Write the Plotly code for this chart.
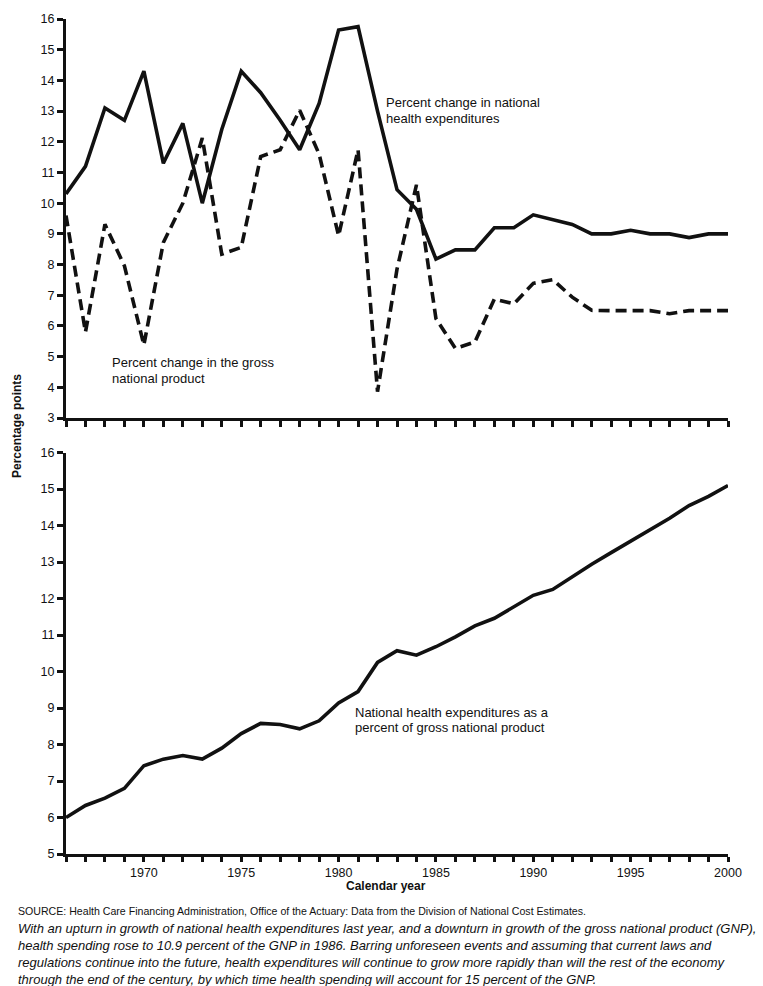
import plotly.graph_objects as go

years = list(range(1966, 2001))

# percent change in national health expenditures (solid)
nhe_change = [10.3, 11.2, 13.1, 12.7, 14.3, 11.3, 12.6, 10.0, 12.4, 14.3,
              13.6, 12.7, 11.74, 13.25, 15.64, 15.75, 13.0, 10.44, 9.8, 8.18,
              8.48, 8.48, 9.2, 9.2, 9.62, 9.47, 9.31, 9.0, 9.0, 9.12,
              9.0, 9.0, 8.88, 9.0, 9.0]

# percent change in gross national product (dashed)
gnp_change = [9.6, 5.8, 9.31, 7.96, 5.38, 8.72, 10.0, 12.12, 8.34, 8.56,
              11.52, 11.74, 13.03, 11.6, 8.94, 11.74, 3.86, 7.85, 10.6, 6.24,
              5.27, 5.48, 6.88, 6.72, 7.39, 7.51, 6.94, 6.51, 6.5, 6.5,
              6.5, 6.4, 6.5, 6.5, 6.5]

# national health expenditures as a percent of GNP
nhe_share = [6.0, 6.33, 6.53, 6.8, 7.42, 7.6, 7.7, 7.6, 7.9, 8.3,
             8.58, 8.55, 8.43, 8.65, 9.14, 9.45, 10.25, 10.57, 10.45, 10.68,
             10.95, 11.25, 11.46, 11.77, 12.09, 12.25, 12.6, 12.94, 13.26, 13.58,
             13.9, 14.2, 14.55, 14.8, 15.1]

xtick_vals = [1970, 1975, 1980, 1985, 1990, 1995, 2000]

W, H = 763, 986
L, R, T, B = 66, 35, 15, 132
pw, ph = W - L - R, H - T - B


def px(x, y):
    return (x - L) / pw, (H - B - y) / ph


FONT = "Liberation Sans, Arial, sans-serif"
ink = "#111111"

fig = go.Figure()
fig.add_trace(go.Scatter(x=years, y=nhe_change, mode="lines", xaxis="x", yaxis="y",
                         line=dict(color=ink, width=3.6)))
fig.add_trace(go.Scatter(x=years, y=gnp_change, mode="lines", xaxis="x", yaxis="y",
                         line=dict(color=ink, width=3.6, dash="11px,6px")))
fig.add_trace(go.Scatter(x=years, y=nhe_share, mode="lines", xaxis="x2", yaxis="y2",
                         line=dict(color=ink, width=3.6)))

axis_common = dict(showgrid=False, zeroline=False, showline=True, linecolor=ink, linewidth=3,
                   ticks="outside", ticklen=6, tickwidth=3, tickcolor=ink,
                   tickfont=dict(family=FONT, size=12.5, color=ink))

top_lo = (H - B - 416) / ph
fig.update_layout(
    width=W, height=H,
    margin=dict(l=L, r=R, t=T, b=B),
    paper_bgcolor="white", plot_bgcolor="white",
    showlegend=False,
    font=dict(family=FONT, color=ink),
    xaxis=dict(axis_common, domain=[0, 1], range=[1966, 2000], dtick=1, tick0=1966,
               showticklabels=False, anchor="y"),
    yaxis=dict(axis_common, domain=[top_lo, 1], range=[3, 16], dtick=1, anchor="x"),
    xaxis2=dict(axis_common, domain=[0, 1], range=[1966, 2000], ticklen=5,
                tickvals=years, ticktext=[str(y) if y in xtick_vals else "" for y in years],
                anchor="y2"),
    yaxis2=dict(axis_common, domain=[0, (H - B - 450.7) / ph], range=[5, 16], dtick=1, anchor="x2"),
)

anns = []


def note(text, x, y, size=13, bold=False, italic=False, xanchor="left", angle=0):
    if bold:
        text = "<b>" + text + "</b>"
    if italic:
        text = "<i>" + text + "</i>"
    ax, ay = px(x, y)
    anns.append(dict(text=text, x=ax, y=ay, xref="paper", yref="paper", showarrow=False,
                     xanchor=xanchor, yanchor="middle", align="left", textangle=angle,
                     font=dict(family=FONT, size=size, color=ink)))


note("Percent change in national", 384, 99)
note("health expenditures", 384, 115)
note("Percent change in the gross", 110, 360)
note("national product", 110, 376)
note("National health expenditures as a", 353, 712)
note("percent of gross national product", 353, 727)
note("Calendar year", 386, 886, size=12, bold=True, xanchor="center")
note("Percentage points", 17, 424, size=12, bold=True, xanchor="center", angle=-90)

note("SOURCE: Health Care Financing Administration, Office of the Actuary: Data from the Division of National Cost Estimates.",
     16, 911, size=10.6)
caption = [
    "With an upturn in growth of national health expenditures last year, and a downturn in growth of the gross national product (GNP),",
    "health spending rose to 10.9 percent of the GNP in 1986. Barring unforeseen events and assuming that current laws and",
    "regulations continue into the future, health expenditures will continue to grow more rapidly than will the rest of the economy",
    "through the end of the century, by which time health spending will account for 15 percent of the GNP.",
]
for i, line in enumerate(caption):
    note(line, 16, 929 + 17 * i, size=13, italic=True)

fig.update_layout(annotations=anns)

fig.write_html("out.html", config={"displayModeBar": False},
               post_script="document.body.style.margin='0';")
